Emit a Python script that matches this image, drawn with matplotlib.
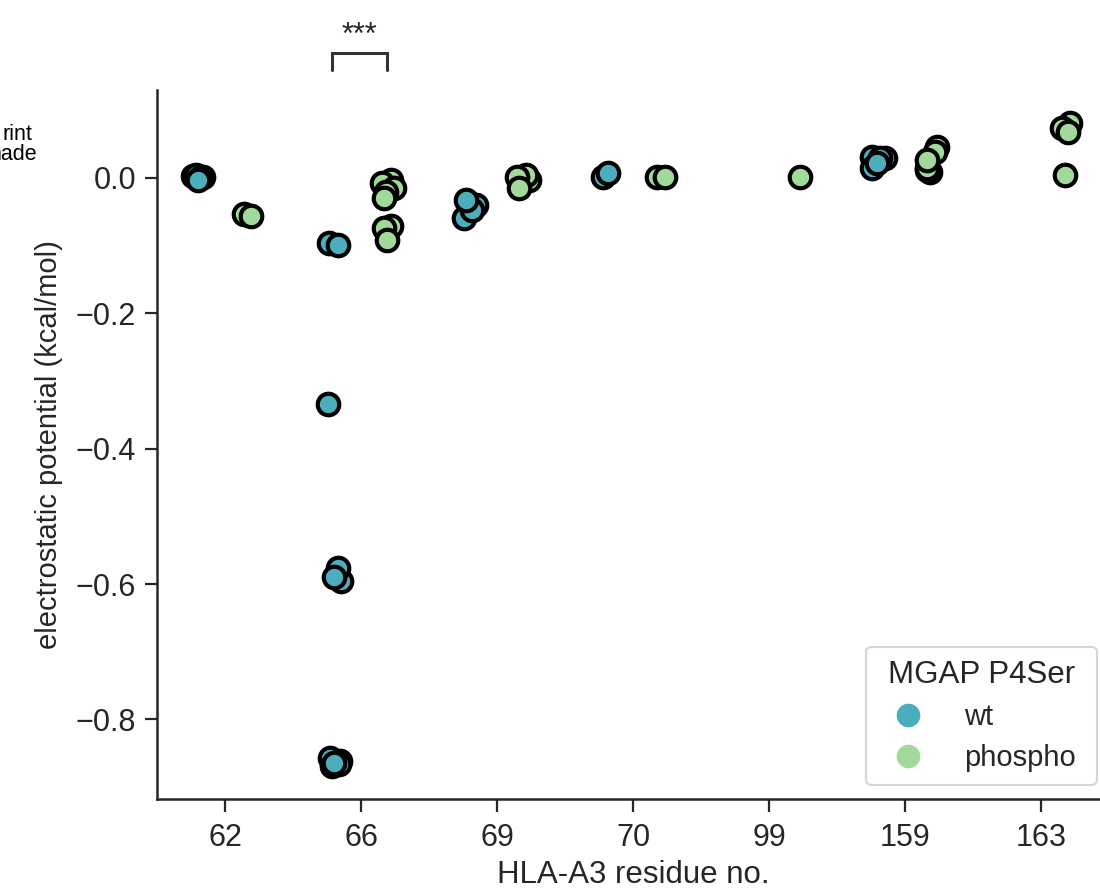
import numpy as np
import matplotlib
matplotlib.use("Agg")
import matplotlib.pyplot as plt
from matplotlib.lines import Line2D

plt.rcParams['font.family'] = ['Liberation Sans', 'DejaVu Sans']

# ---- data ----
residues = ["62", "66", "69", "70", "99", "159", "163"]
hue_levels = ["wt", "phospho"]

wt_values = [
    [0.003, 0.001, 0.004, 0.000, -0.003],
    [-0.857, -0.861, -0.869, -0.866, -0.864, -0.596, -0.576, -0.589, -0.334, -0.096, -0.099],
    [-0.059, -0.040, -0.047, -0.032],
    [0.002, 0.007],
    [],
    [0.031, 0.030, 0.015, 0.030, 0.022],
    [],
]
wt_jitter = [
    [-0.037, 0.037, -0.015, 0.015, 0.0],
    [-0.03, 0.045, -0.01, 0.04, 0.0, 0.05, 0.03, 0.0, -0.044, -0.037, 0.03],
    [-0.044, 0.044, 0.015, -0.03],
    [-0.022, 0.015],
    [],
    [-0.044, 0.05, -0.044, 0.015, -0.007],
    [],
]
phospho_values = [
    [-0.053, -0.056],
    [-0.003, -0.007, -0.015, -0.021, -0.030, -0.071, -0.074, -0.092],
    [-0.003, 0.004, 0.001, -0.015],
    [0.002, 0.002],
    [0.001],
    [0.046, 0.038, 0.009, 0.012, 0.015, 0.027],
    [0.004, 0.081, 0.074, 0.068],
]
phospho_jitter = [
    [-0.06, -0.007],
    [0.022, -0.044, 0.044, -0.015, -0.03, 0.022, -0.03, -0.007],
    [0.037, 0.015, -0.05, -0.037],
    [-0.022, 0.037],
    [0.03],
    [0.037, 0.022, -0.015, -0.04, -0.037, -0.037],
    [-0.022, 0.015, -0.044, 0.0],
]

colors = {"wt": "#4CADBD", "phospho": "#A1D99B"}
dodge = 0.2

fig = plt.figure(figsize=(11, 8.92), dpi=100)
ax = fig.add_axes([157 / 1100, 93 / 892, (1109 - 157) / 1100, (799 - 90) / 892])

for level, vals, jit, sign in [("wt", wt_values, wt_jitter, -1),
                               ("phospho", phospho_values, phospho_jitter, 1)]:
    for i, (v, j) in enumerate(zip(vals, jit)):
        if not v:
            continue
        x = i + sign * dodge + np.array(j)
        ax.scatter(x, v, s=240, color=colors[level], edgecolor="black",
                   linewidth=3.0, zorder=3, clip_on=False)

ax.set_xlim(-0.5, len(residues) - 0.5)
ax.set_ylim(-0.9175, 0.13)
ax.set_xticks(range(len(residues)))
ax.set_xticklabels(residues)
ax.set_yticks([0.0, -0.2, -0.4, -0.6, -0.8])
ax.set_yticklabels(["0.0", "\u22120.2", "\u22120.4", "\u22120.6", "\u22120.8"])

for s in ["top", "right"]:
    ax.spines[s].set_visible(False)
for s in ["left", "bottom"]:
    ax.spines[s].set_linewidth(1.8)
    ax.spines[s].set_color("#262626")
ax.tick_params(axis="both", length=9, width=1.6, color="#262626",
               labelsize=22, labelcolor="#262626", pad=6)
ax.tick_params(axis="x", pad=8)

ax.set_xlabel("HLA-A3 residue no.", fontsize=22.5, color="#262626", labelpad=5)
ax.set_ylabel("electrostatic potential (kcal/mol)", fontsize=21, color="#262626", labelpad=9)

# significance bracket between wt and phospho at residue 66
x1, x2 = 1 - 0.21, 1 + 0.19
yb, yt = 0.159, 0.1845
ax.plot([x1, x1, x2, x2], [yb, yt, yt, yb], color="#333333", lw=2.2,
        clip_on=False, solid_capstyle="round", solid_joinstyle="miter")
ax.text((x1 + x2) / 2, 0.188, "***", ha="center", va="bottom", fontsize=22,
        color="#262626", clip_on=False)

# legend
handles = [Line2D([], [], marker="o", linestyle="", markersize=16,
                  markerfacecolor=colors[l], markeredgecolor=colors[l], label=l)
           for l in hue_levels]
leg = fig.legend(handles=handles, title="MGAP P4Ser", loc="lower left",
                 bbox_to_anchor=(866 / 1100, (892 - 785) / 892, 231 / 1100, 137 / 892),
                 bbox_transform=fig.transFigure, borderaxespad=0, mode="expand",
                 fontsize=21, title_fontsize=22.5, frameon=True, fancybox=True,
                 handletextpad=0.9, borderpad=0.45, labelspacing=0.45)
leg.get_frame().set_edgecolor("#cccccc")
leg.get_frame().set_linewidth(1.5)
leg.get_title().set_color("#262626")
for t in leg.get_texts():
    t.set_color("#262626")

# cut-off fragments of text at the figure's left edge (as in the reference)
fig.text(32 / 1100, 1 - 134 / 892, "rint", ha="right", va="center", fontsize=15.5)
fig.text(37 / 1100, 1 - 155 / 892, "nade", ha="right", va="center", fontsize=15.5)

fig.savefig("out.png", dpi=100)
